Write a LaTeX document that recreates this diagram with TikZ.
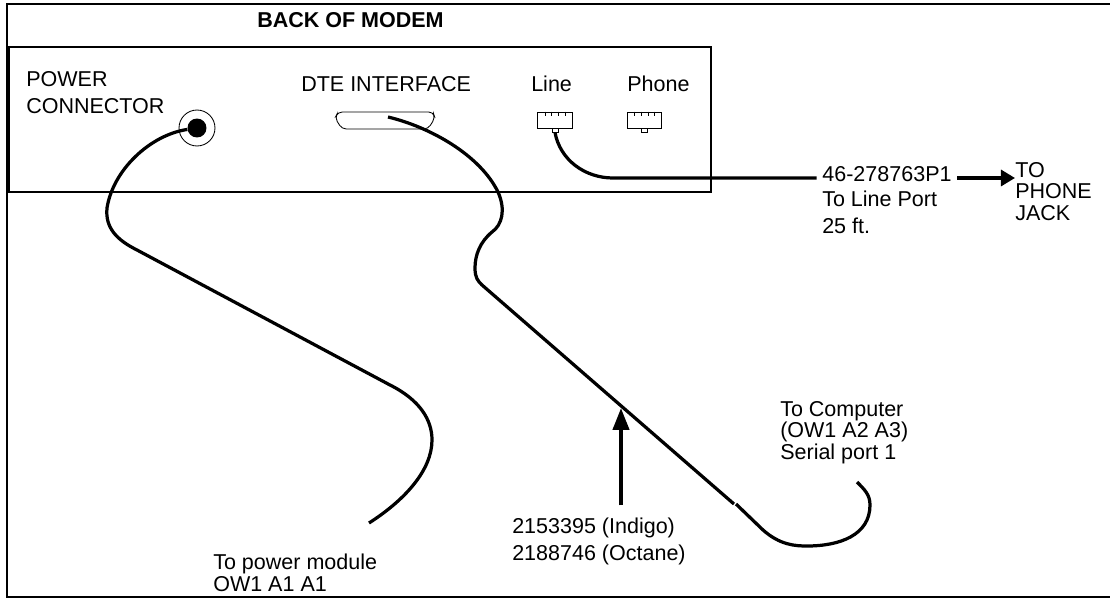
\documentclass[tikz,border=0pt]{standalone}
\usepackage{fontspec}
\setmainfont{Liberation Sans}
\usepackage{tikz}
\usetikzlibrary{arrows.meta,positioning,calc}
\tikzset{
  mdmframe/.style={draw=black, line width=1.7pt},
  mdmcable/.style={draw=black, line width=2.3pt, line cap=butt},
  mdmthin/.style={draw=black, line width=0.6pt},
  mdmport/.style={mdmthin, fill=white, minimum width=24.6pt, minimum height=11.4pt,
                  inner sep=0pt, rectangle},
  mdmlabel/.style={anchor=base west, inner sep=0pt, align=left,
                   font=\fontsize{15.3}{18.5}\selectfont},
  mdmtight/.style={mdmlabel, font=\fontsize{15.3}{15.2}\selectfont},
  mdmarrow/.style={-{Triangle[length=10pt,width=11.4pt,sep=0pt]}, draw=black, line width=2.3pt},
  mdmuparrow/.style={-{Triangle[length=15.6pt,width=11.4pt,sep=0pt]}, draw=black, line width=2.9pt},
}
\begin{document}
\begin{tikzpicture}[x=0.25mm,y=-0.25mm]
  \useasboundingbox (0,0) rectangle (1110,598);
  \draw[mdmframe] (1110,4) -- (7,4) -- (7,597) -- (1110,597);
  \draw[mdmframe] (9,47) rectangle (711,192);
  % labels on the panel
  \node[mdmlabel, font=\fontsize{15.3}{18.5}\selectfont\bfseries] (title) at (257,28) {BACK OF MODEM};
  \node[mdmlabel] (pwrlabel) at (26,113) {POWER\\CONNECTOR};
  \node[mdmlabel] (dtelabel) at (301,91) {DTE INTERFACE};
  \node[mdmlabel] (linelabel) at (531,91) {Line};
  \node[mdmlabel] (phonelabel) at (627,91) {Phone};
  % connectors
  \node[circle, mdmthin, minimum size=25.6pt, inner sep=0pt] (pwrjack) at (197,128) {};
  \node[circle, fill=black, minimum size=13.5pt, inner sep=0pt] (pwrdot) at (197,128) {};
  \draw[mdmthin, rounded corners=3pt] (338,112) -- (433,112) -- (435,118) -- (428,129)
    -- (342,129) -- (335,118) -- cycle;
  \foreach \px/\nm in {555/lineport,644.5/phoneport} {
    \node[mdmport] (\nm) at (\px,120) {};
    \draw[mdmthin, fill=white] ($(\nm.south)+(-3,0)$) rectangle ($(\nm.south)+(3,4)$);
    \coordinate (\nm tab) at ($(\nm.south)+(0,4)$);
    \foreach \tx in {-10,-3.5,3.5,10}
      \draw[mdmthin] ($(\nm.north)+(\tx,0)$) -- ++(0,4);
  }
  % cable ends
  \coordinate (pwrend) at (369,523);
  \coordinate (dtepin) at (388,117);
  \coordinate (dtetap) at (621,408);
  \coordinate (compend) at (857,482);
  % lower labels
  \node[mdmlabel, inner xsep=4pt, text depth=6.4pt] (partno) at (816.5,181) {46-278763P1};
  \node[mdmlabel] (partline) at (822,233) {To Line Port\\25 ft.};
  \node[mdmtight] (jacklabel) at (1015,220) {TO\\PHONE\\JACK};
  \node[mdmtight] (complabel) at (780,459) {To Computer\\(OW1 A2 A3)\\Serial port 1};
  \node[mdmlabel, inner ysep=9pt] (cordlabel) at (512,560) {2153395 (Indigo)\\2188746 (Octane)};
  \node[mdmtight] (pwrmodule) at (213,591) {To power module\\OW1 A1 A1};
  % cables
  \draw[mdmcable] (pwrdot) .. controls (150,135) and (113,170) .. (107,208)
    .. controls (105,228) and (117,240) .. (137,250) -- (390,385)
    .. controls (420,400) and (432,420) .. (432,440)
    .. controls (432,470) and (405,500) .. (pwrend);
  \draw[mdmcable] (dtepin) .. controls (430,127) and (480,155) .. (498,192)
    .. controls (506,210) and (502,225) .. (492,232)
    .. controls (480,242) and (475,255) .. (475,268)
    .. controls (475,278) and (478,281) .. (482,285) -- (734,504);
  \draw[mdmcable] (736,504) -- (763,530)
    .. controls (780,545) and (795,546) .. (807,546)
    .. controls (840,546) and (870,535) .. (870,505)
    .. controls (870,495) and (865,490) .. (compend);
  \draw[mdmcable] (lineporttab) .. controls (560,160) and (585,178) .. (613,178) -- (partno.west);
  \draw[mdmarrow] (partno.east) -- (partno.east -| jacklabel.west);
  \draw[mdmuparrow] (cordlabel.north -| dtetap) -- (dtetap);
\end{tikzpicture}
\end{document}
